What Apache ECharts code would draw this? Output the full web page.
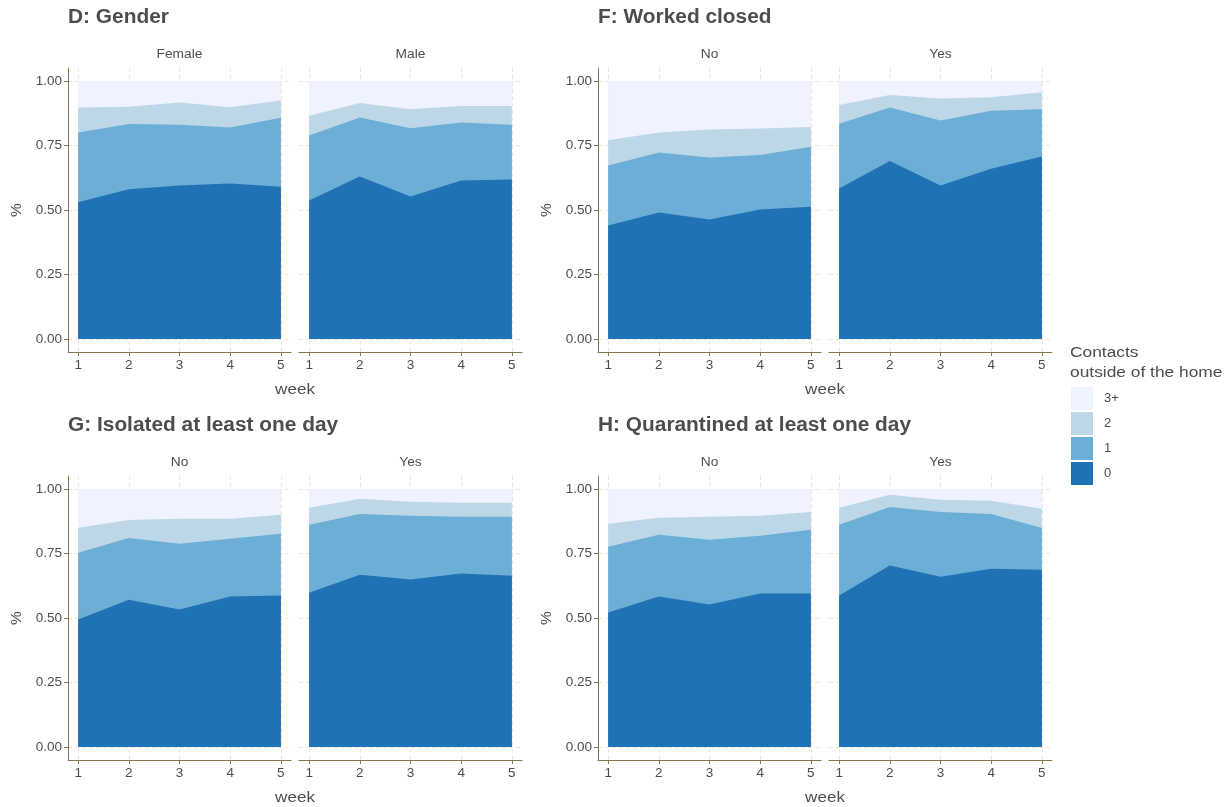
<!DOCTYPE html>
<html>
<head>
<meta charset="utf-8">
<script src="https://cdn.jsdelivr.net/npm/echarts@6/dist/echarts.min.js"></script>
<style>html,body{margin:0;padding:0;background:#fff}#c{width:1231px;height:807px}</style>
</head>
<body>
<div id="c"></div>
<script>
// ---- data: share of respondents by number of contacts outside of the home (rows: 0, 1, 2, 3+), columns: weeks 1..5
const weeks = [1, 2, 3, 4, 5];
const levels = ['0', '1', '2', '3+'];
const yTicks = [0, 0.25, 0.5, 0.75, 1];

const genderFemale = [
  [0.530, 0.580, 0.595, 0.603, 0.590],
  [0.270, 0.253, 0.235, 0.217, 0.267],
  [0.097, 0.067, 0.086, 0.078, 0.067],
  [0.103, 0.100, 0.084, 0.102, 0.076]
];
const genderMale = [
  [0.537, 0.630, 0.552, 0.614, 0.618],
  [0.252, 0.228, 0.265, 0.225, 0.212],
  [0.076, 0.056, 0.073, 0.064, 0.073],
  [0.135, 0.086, 0.110, 0.097, 0.097]
];
const workedClosedNo = [
  [0.440, 0.490, 0.463, 0.502, 0.513],
  [0.232, 0.233, 0.240, 0.211, 0.232],
  [0.098, 0.077, 0.109, 0.103, 0.076],
  [0.230, 0.200, 0.188, 0.184, 0.179]
];
const workedClosedYes = [
  [0.583, 0.690, 0.595, 0.660, 0.707],
  [0.251, 0.207, 0.252, 0.224, 0.183],
  [0.073, 0.048, 0.085, 0.053, 0.066],
  [0.093, 0.055, 0.068, 0.063, 0.044]
];
const isolatedNo = [
  [0.494, 0.571, 0.533, 0.583, 0.587],
  [0.259, 0.239, 0.255, 0.224, 0.239],
  [0.097, 0.070, 0.096, 0.077, 0.074],
  [0.150, 0.120, 0.116, 0.116, 0.100]
];
const isolatedYes = [
  [0.598, 0.668, 0.649, 0.672, 0.664],
  [0.263, 0.235, 0.247, 0.220, 0.228],
  [0.066, 0.059, 0.054, 0.054, 0.054],
  [0.073, 0.038, 0.050, 0.054, 0.054]
];
const quarantinedNo = [
  [0.521, 0.583, 0.552, 0.595, 0.595],
  [0.255, 0.239, 0.251, 0.224, 0.247],
  [0.089, 0.066, 0.089, 0.077, 0.069],
  [0.135, 0.112, 0.108, 0.104, 0.089]
];
const quarantinedYes = [
  [0.587, 0.703, 0.660, 0.691, 0.687],
  [0.274, 0.227, 0.251, 0.212, 0.162],
  [0.066, 0.047, 0.047, 0.051, 0.074],
  [0.073, 0.023, 0.042, 0.046, 0.077]
];

const panels = [
  { title: 'D: Gender', strips: ['Female', 'Male'], data: [genderFemale, genderMale] },
  { title: 'F: Worked closed', strips: ['No', 'Yes'], data: [workedClosedNo, workedClosedYes] },
  { title: 'G: Isolated at least one day', strips: ['No', 'Yes'], data: [isolatedNo, isolatedYes] },
  { title: 'H: Quarantined at least one day', strips: ['No', 'Yes'], data: [quarantinedNo, quarantinedYes] }
];

// ---- styling
const colors = ['#2171b5', '#6baed6', '#bdd7e7', '#eff3ff'];
const FONT = '"Liberation Sans", Arial, sans-serif';
const TXT = '#4d4d4d';
const AXIS = '#8b7350';
const GRIDC = '#efe5d7';
const panelLeft = [68, 598];
const facetOffset = 231;
const facetW = 223;
const rowTop = [68, 476];
const facetH = 284;
const SX = 1.1; // horizontal text stretch seen in the reference

const grids = [], xAxes = [], yAxes = [], series = [], graphics = [];
panels.forEach((p, pi) => {
  const row = Math.floor(pi / 2), col = pi % 2;
  const top = rowTop[row];
  graphics.push({
    type: 'text', x: panelLeft[col], y: top - 50, scaleX: 1.07,
    style: { text: p.title, fontFamily: FONT, fontSize: 19.5, fontWeight: 'bold', fill: TXT, textAlign: 'left', textVerticalAlign: 'middle' }
  });
  graphics.push({
    type: 'text', x: panelLeft[col] - 51, y: top + facetH / 2, rotation: Math.PI / 2,
    style: { text: '%', fontFamily: FONT, fontSize: 15.5, fill: TXT, textAlign: 'center', textVerticalAlign: 'middle' }
  });
  graphics.push({
    type: 'text', x: panelLeft[col] + (facetOffset + facetW) / 2, y: top + facetH + 38, scaleX: SX,
    style: { text: 'week', fontFamily: FONT, fontSize: 15.5, fill: TXT, textAlign: 'center', textVerticalAlign: 'middle' }
  });
  for (let f = 0; f < 2; f++) {
    const gi = pi * 2 + f;
    const left = panelLeft[col] + f * facetOffset;
    grids.push({ left: left, top: top, width: facetW, height: facetH, containLabel: false });
    graphics.push({
      type: 'text', x: left + facetW / 2, y: top - 13, scaleX: SX,
      style: { text: p.strips[f], fontFamily: FONT, fontSize: 12.5, fill: TXT, textAlign: 'center', textVerticalAlign: 'middle' }
    });
    xAxes.push({
      type: 'value', gridIndex: gi, min: 0.8, max: 5.2,
      axisLine: { show: true, onZero: false, lineStyle: { color: AXIS, width: 1 } },
      axisTick: { show: true, length: 4, customValues: weeks, lineStyle: { color: AXIS } },
      axisLabel: { customValues: weeks, fontFamily: FONT, fontSize: 13.5, color: TXT, margin: 6, formatter: v => String(v) },
      splitLine: { show: true, lineStyle: { color: GRIDC, type: [4, 3], width: 1 } }
    });
    yAxes.push({
      type: 'value', gridIndex: gi, min: -0.05, max: 1.05,
      axisLine: { show: f === 0, onZero: false, lineStyle: { color: AXIS, width: 1 } },
      axisTick: { show: f === 0, length: 4, customValues: yTicks, lineStyle: { color: AXIS } },
      axisLabel: { show: f === 0, customValues: yTicks, fontFamily: FONT, fontSize: 13.5, color: TXT, margin: 6, formatter: v => v.toFixed(2) },
      splitLine: { show: true, lineStyle: { color: GRIDC, type: [4, 3], width: 1 } }
    });
    const shares = p.data[f];
    // cumulative tops; draw from top layer down so the lower layers cover the upper ones
    const cum = shares.map((_, k) => weeks.map((w, i) => {
      let s = 0; for (let j = 0; j <= k; j++) s += shares[j][i]; return s;
    }));
    for (let k = levels.length - 1; k >= 0; k--) {
      series.push({
        name: levels[k], type: 'line', xAxisIndex: gi, yAxisIndex: gi,
        data: weeks.map((w, i) => [w, Math.min(1, cum[k][i])]),
        symbol: 'none', showSymbol: false, silent: true, animation: false,
        lineStyle: { width: 0, color: colors[k] },
        itemStyle: { color: colors[k] },
        areaStyle: { color: colors[k], opacity: 1, origin: 0 }
      });
    }
  }
});

graphics.push({
  type: 'text', x: 1070, y: 343, scaleX: 1.12,
  style: { text: 'Contacts\noutside of the home', fontFamily: FONT, fontSize: 15.5, fill: TXT, lineHeight: 20, textVerticalAlign: 'top' }
});

const chart = echarts.init(document.getElementById('c'), null, { renderer: 'canvas' });
chart.setOption({
  backgroundColor: '#ffffff',
  animation: false,
  grid: grids,
  xAxis: xAxes,
  yAxis: yAxes,
  series: series,
  legend: {
    orient: 'vertical', left: 1071, top: 387, padding: 0, itemWidth: 22, itemHeight: 23, itemGap: 2,
    selectedMode: false, icon: 'rect',
    data: ['3+', '2', '1', '0'].map(n => ({ name: n, itemStyle: { color: colors[levels.indexOf(n)] } })),
    textStyle: { fontFamily: FONT, fontSize: 13, color: TXT, padding: [0, 0, 0, 6] }
  },
  graphic: graphics
});
</script>
</body>
</html>
